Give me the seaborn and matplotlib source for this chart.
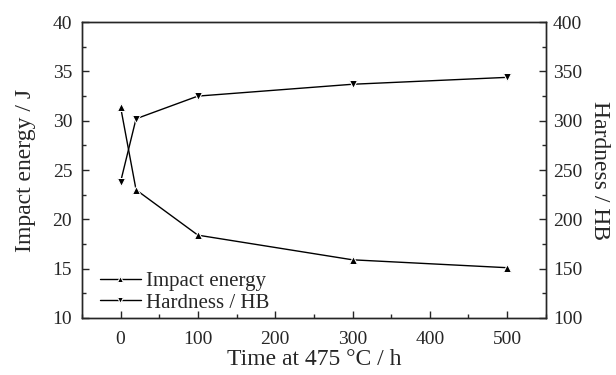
import seaborn as sns
import pandas as pd
import matplotlib.pyplot as plt
from matplotlib.ticker import MultipleLocator

time_h = [0, 20, 100, 300, 500]
impact_energy = [31.4, 23.0, 18.4, 15.9, 15.1]
hardness = [238, 302, 325, 337, 344]

df = pd.DataFrame({'time': time_h, 'impact': impact_energy, 'hardness': hardness})

sns.set_style('ticks')
plt.rcParams['font.family'] = ['Liberation Serif', 'DejaVu Serif']
plt.rcParams['xtick.direction'] = 'in'
plt.rcParams['ytick.direction'] = 'in'

fig, ax = plt.subplots(figsize=(6.16, 3.75), dpi=100)
ax2 = ax.twinx()

sns.lineplot(data=df, x='time', y='impact', ax=ax, color='black', marker='^',
             markersize=6, linewidth=1, label='Impact energy', legend=False)
sns.lineplot(data=df, x='time', y='hardness', ax=ax2, color='black', marker='v',
             markersize=6, linewidth=1, label='Hardness / HB', legend=False)

ax.set_xlim(-50, 550)
ax.set_ylim(10, 40)
ax2.set_ylim(100, 400)
ax.xaxis.set_major_locator(MultipleLocator(100))
ax.xaxis.set_minor_locator(MultipleLocator(50))
ax.yaxis.set_major_locator(MultipleLocator(5))
ax.yaxis.set_minor_locator(MultipleLocator(2.5))
ax2.yaxis.set_major_locator(MultipleLocator(50))
ax2.yaxis.set_minor_locator(MultipleLocator(25))

for a in (ax, ax2):
    a.tick_params(which='major', length=5, width=1, labelsize=14)
    a.tick_params(which='minor', length=3, width=1)
    for s in a.spines.values():
        s.set_linewidth(1)
        s.set_visible(True)
ax.tick_params(axis='x', which='major', pad=9)
ax.tick_params(axis='y', which='major', pad=7)
ax2.tick_params(axis='y', which='major', pad=5)

ax.set_xlabel('Time at 475 °C / h', fontsize=17, labelpad=1)
ax.set_ylabel('Impact energy / J', fontsize=17, labelpad=12)
ax2.set_ylabel('Hardness / HB', fontsize=17, rotation=270, labelpad=20)

h1, l1 = ax.get_legend_handles_labels()
h2, l2 = ax2.get_legend_handles_labels()
ax.legend(h1 + h2, l1 + l2, loc='lower left', bbox_to_anchor=(0.02, -0.01),
          frameon=False, fontsize=15, handlelength=2.0, handletextpad=0.25,
          borderaxespad=0.0, labelspacing=0.1, markerscale=0.8)

fig.subplots_adjust(left=0.133, right=0.886, top=0.941, bottom=0.152)
plt.savefig('out.png', dpi=100)
